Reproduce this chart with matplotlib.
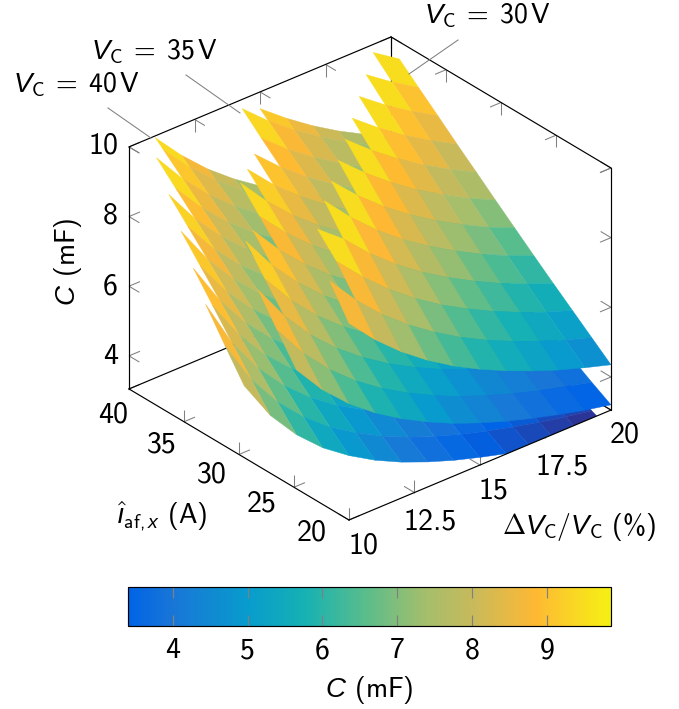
import matplotlib
matplotlib.use("Agg")
import numpy as np
import matplotlib.pyplot as plt
from matplotlib.colors import LinearSegmentedColormap, Normalize
from matplotlib.cm import ScalarMappable
from matplotlib.lines import Line2D
from matplotlib.path import Path
from matplotlib.transforms import IdentityTransform
from mpl_toolkits.mplot3d.art3d import Poly3DCollection
from mpl_toolkits.mplot3d import proj3d

plt.rcParams['font.family'] = ['cmss10', 'DejaVu Sans']
plt.rcParams['axes.unicode_minus'] = False
plt.rcParams['axes.formatter.use_mathtext'] = False
plt.rcParams['mathtext.fontset'] = 'custom'
plt.rcParams['mathtext.rm'] = 'cmss10'
plt.rcParams['mathtext.it'] = 'Liberation Sans:italic'
plt.rcParams['mathtext.bf'] = 'cmss10'
plt.rcParams['mathtext.fallback'] = 'cm'

# ---------- data ----------
current_grid = [20, 21.75, 23.5, 25.25, 27, 28.75, 30.5, 32.25, 34, 35.75, 37.5, 39.25, 40]

ripple_v30 = [10, 11, 12, 13, 14, 15, 16, 17, 18, 19, 20]
C_v30 = [
    [8.70, 9.59],
    [7.91, 8.72, 9.50, 10.10],
    [7.25, 7.99, 8.74, 9.50, 10.27],
    [6.69, 7.38, 8.07, 8.77, 9.48, 10.19],
    [6.21, 6.85, 7.49, 8.14, 8.80, 9.46, 10.14],
    [5.80, 6.39, 6.99, 7.60, 8.21, 8.83, 9.47, 10.10],
    [5.44, 5.99, 6.56, 7.13, 7.70, 8.28, 8.88, 9.47, 10.06],
    [5.12, 5.64, 6.17, 6.71, 7.25, 7.79, 8.35, 8.91, 9.47, 10.04],
    [4.83, 5.33, 5.83, 6.33, 6.84, 7.36, 7.89, 8.42, 8.94, 9.48, 10.02],
    [4.58, 5.05, 5.52, 6.00, 6.48, 6.97, 7.47, 7.97, 8.47, 8.98, 9.49, 10.01],
    [4.35, 4.80, 5.25, 5.70, 6.16, 6.63, 7.10, 7.58, 8.05, 8.54, 9.02, 9.51],
]

ripple_v35 = [8, 9, 10, 11, 12, 13, 14, 15, 16, 17, 18, 19, 20]
C_v35 = [
    [7.99, 8.80, 9.64],
    [7.10, 7.82, 8.57, 9.30, 10.06],
    [6.39, 7.04, 7.71, 8.37, 9.05, 9.73],
    [5.81, 6.40, 7.01, 7.61, 8.23, 8.85, 9.48, 10.11],
    [5.33, 5.87, 6.43, 6.98, 7.54, 8.11, 8.69, 9.27, 9.86],
    [4.92, 5.42, 5.93, 6.44, 6.96, 7.48, 8.02, 8.55, 9.10, 9.65],
    [4.56, 5.03, 5.51, 5.98, 6.46, 6.95, 7.45, 7.94, 8.45, 8.96, 9.46, 9.98],
    [4.26, 4.69, 5.14, 5.58, 6.03, 6.49, 6.95, 7.41, 7.89, 8.36, 8.83, 9.31, 9.52],
    [3.99, 4.40, 4.82, 5.23, 5.66, 6.08, 6.52, 6.95, 7.39, 7.84, 8.28, 8.73, 8.93],
    [3.76, 4.14, 4.54, 4.92, 5.32, 5.72, 6.14, 6.54, 6.96, 7.38, 7.79, 8.22, 8.40],
    [3.55, 3.91, 4.28, 4.65, 5.03, 5.41, 5.79, 6.18, 6.57, 6.97, 7.36, 7.76, 7.93],
    [3.36, 3.71, 4.06, 4.41, 4.76, 5.12, 5.49, 5.85, 6.23, 6.60, 6.97, 7.35, 7.52],
    [3.20, 3.52, 3.86, 4.19, 4.53, 4.87, 5.22, 5.56, 5.92, 6.27, 6.63, 6.99, 7.14],
]

ripple_v40 = [6, 7, 8, 9, 10, 11, 12, 13, 14, 15, 16, 17, 18, 19, 20]
C_v40 = [
    [8.17, 9.00, 9.85],
    [7.00, 7.71, 8.44, 9.17, 9.91],
    [6.13, 6.75, 7.39, 8.03, 8.68, 9.33, 10.00],
    [5.44, 6.00, 6.57, 7.13, 7.71, 8.29, 8.89, 9.48, 10.08],
    [4.90, 5.40, 5.91, 6.42, 6.94, 7.46, 8.00, 8.53, 9.07, 9.61, 10.16],
    [4.45, 4.91, 5.37, 5.84, 6.31, 6.78, 7.27, 7.75, 8.25, 8.74, 9.24, 9.74, 9.95],
    [4.08, 4.50, 4.93, 5.35, 5.78, 6.22, 6.67, 7.11, 7.56, 8.01, 8.47, 8.93, 9.13],
    [3.77, 4.15, 4.55, 4.94, 5.34, 5.74, 6.15, 6.56, 6.98, 7.39, 7.82, 8.24, 8.42],
    [3.50, 3.86, 4.22, 4.59, 4.96, 5.33, 5.71, 6.09, 6.48, 6.86, 7.26, 7.65, 7.82],
    [3.27, 3.60, 3.94, 4.28, 4.63, 4.97, 5.33, 5.69, 6.05, 6.41, 6.77, 7.14, 7.30],
    [3.06, 3.38, 3.69, 4.01, 4.34, 4.66, 5.00, 5.33, 5.67, 6.01, 6.35, 6.69, 6.84],
    [2.88, 3.18, 3.48, 3.78, 4.08, 4.39, 4.71, 5.02, 5.34, 5.65, 5.98, 6.30, 6.44],
    [2.72, 3.00, 3.28, 3.57, 3.86, 4.14, 4.44, 4.74, 5.04, 5.34, 5.64, 5.95, 6.08],
    [2.58, 2.84, 3.11, 3.38, 3.65, 3.93, 4.21, 4.49, 4.77, 5.06, 5.35, 5.64, 5.76],
    [2.45, 2.70, 2.96, 3.21, 3.47, 3.73, 4.00, 4.27, 4.54, 4.81, 5.08, 5.36, 5.48],
]

x_ticks = [10, 12.5, 15, 17.5, 20]
x_tick_labels = ['10', '12.5', '15', '17.5', '20']
y_ticks = [20, 25, 30, 35, 40]
z_ticks = [4, 6, 8, 10]
cbar_ticks = [4, 5, 6, 7, 8, 9]

# ---------- style / layout ----------
W, H = 679, 709
XMIN, XMAX, YMIN, YMAX, ZMIN, ZMAX = 10, 20, 20, 40, 3.05, 10
META_MIN, META_MAX = 2.45, 9.86
CBAR_MIN = 3.4
GREY = '#808080'
FS = 20
FS_TICK = 21.5

cmap_stops = [
    (2.45, (53, 42, 135)), (3.4, (0, 100, 230)), (4.0, (25, 118, 215)), (5.0, (8, 156, 205)),
    (5.75, (21, 177, 180)), (6.57, (89, 189, 140)), (7.39, (165, 190, 107)), (8.0, (198, 186, 92)),
    (8.85, (254, 184, 52)), (9.3, (250, 210, 38)), (9.86, (245, 240, 20)),
]
parula = LinearSegmentedColormap.from_list(
    'parula_like',
    [((v - META_MIN) / (META_MAX - META_MIN), tuple(c / 255 for c in rgb)) for v, rgb in cmap_stops])
norm = Normalize(META_MIN, META_MAX)


def fx(px):
    return px / W


def fy(py):
    return 1 - py / H


fig = plt.figure(figsize=(W / 100, H / 100), dpi=100)

# ---------- 3D axes placed so the box lands on the wanted pixels ----------
ax = fig.add_axes([100 / W, 100 / H, 400 / W, 400 / H], projection='3d', proj_type='ortho')
ax.set_box_aspect((342, 342, 279.4))
ax.view_init(elev=30, azim=230)
ax.set_xlim(XMIN, XMAX)
ax.set_ylim(YMIN, YMAX)
ax.set_zlim(ZMIN, ZMAX)
ax.set_axis_off()
ax.computed_zorder = False
ax.patch.set_alpha(0)


def view_uv(x, y, z):
    u, v, _ = proj3d.proj_transform(x, y, z, ax.get_proj())
    return u, v


ax.apply_aspect()


def frac(x, y, z):
    d = ax.transData.transform(view_uv(x, y, z))
    return (d[0] - 100) / 400, (d[1] - 100) / 400


fB = frac(XMAX, YMIN, ZMIN)
fC = frac(XMIN, YMAX, ZMIN)
fA = frac(XMIN, YMIN, ZMIN)
S = (611 - 129) / (fB[0] - fC[0])
left = 129 - fC[0] * S
bottom = (H - 520) - fA[1] * S
ax.set_position([left / W, bottom / H, S / W, S / H])
ax.apply_aspect()

hex_pts = []
for c in [(XMIN, YMAX, ZMIN), (XMIN, YMIN, ZMIN), (XMAX, YMIN, ZMIN), (XMAX, YMIN, ZMAX),
          (XMAX, YMAX, ZMAX), (XMIN, YMAX, ZMAX)]:
    hex_pts.append(ax.transData.transform(view_uv(*c)))
hex_path = Path(np.array(hex_pts + [hex_pts[0]]), closed=True)


def add_surface(xs, columns, zorder):
    verts, cols = [], []
    for i in range(len(xs) - 1):
        n = min(len(columns[i]), len(columns[i + 1]))
        for k in range(n - 1):
            quad = [(xs[i], current_grid[k], columns[i][k]),
                    (xs[i + 1], current_grid[k], columns[i + 1][k]),
                    (xs[i + 1], current_grid[k + 1], columns[i + 1][k + 1]),
                    (xs[i], current_grid[k + 1], columns[i][k + 1])]
            verts.append(quad)
            cols.append(parula(norm(np.mean([q[2] for q in quad]))))
    coll = Poly3DCollection(verts, facecolors=cols, edgecolors=cols, linewidths=0.3, zorder=zorder)
    ax.add_collection3d(coll, autolim=False)
    coll.set_clip_box(None)
    coll.set_clip_path(hex_path, IdentityTransform())
    return coll


# tick marks (each tick points along the two other box directions)
LX, LY, LZ = 0.42, 0.94, 0.35
tick_kw = dict(color=GREY, lw=0.75, zorder=1, solid_capstyle='butt')
for t in x_ticks:
    ax.plot([t, t], [YMIN, YMIN + LY], [ZMIN, ZMIN], **tick_kw)
    ax.plot([t, t], [YMIN, YMIN], [ZMIN, ZMIN + LZ], **tick_kw)
    ax.plot([t, t], [YMAX, YMAX - LY], [ZMAX, ZMAX], **tick_kw)
    ax.plot([t, t], [YMAX, YMAX], [ZMAX, ZMAX - LZ], **tick_kw)
for t in y_ticks:
    ax.plot([XMIN, XMIN + LX], [t, t], [ZMIN, ZMIN], **tick_kw)
    ax.plot([XMIN, XMIN], [t, t], [ZMIN, ZMIN + LZ], **tick_kw)
    ax.plot([XMAX, XMAX - LX], [t, t], [ZMAX, ZMAX], **tick_kw)
    ax.plot([XMAX, XMAX], [t, t], [ZMAX, ZMAX - LZ], **tick_kw)
for t in z_ticks:
    ax.plot([XMIN, XMIN + LX], [YMAX, YMAX], [t, t], **tick_kw)
    ax.plot([XMIN, XMIN], [YMAX, YMAX - LY], [t, t], **tick_kw)
    ax.plot([XMAX, XMAX - LX], [YMIN, YMIN], [t, t], **tick_kw)
    ax.plot([XMAX, XMAX], [YMIN, YMIN + LY], [t, t], **tick_kw)

# back box lines
line_kw = dict(color='black', lw=0.85, solid_capstyle='projecting')
ax.plot([XMIN, XMAX], [YMAX, YMAX], [ZMIN, ZMIN], zorder=1.5, **line_kw)
ax.plot([XMAX, XMAX], [YMIN, YMAX], [ZMIN, ZMIN], zorder=1.5, **line_kw)
ax.plot([XMAX, XMAX], [YMAX, YMAX], [ZMIN, ZMAX], zorder=1.5, **line_kw)

add_surface(ripple_v40, C_v40, 2)
add_surface(ripple_v35, C_v35, 3)
add_surface(ripple_v30, C_v30, 4)

# outer box lines
for (xa, xb), (ya, yb), (za, zb) in [
    ((XMIN, XMIN), (YMAX, YMIN), (ZMIN, ZMIN)),
    ((XMIN, XMAX), (YMIN, YMIN), (ZMIN, ZMIN)),
    ((XMAX, XMAX), (YMIN, YMIN), (ZMIN, ZMAX)),
    ((XMAX, XMAX), (YMIN, YMAX), (ZMAX, ZMAX)),
    ((XMIN, XMAX), (YMAX, YMAX), (ZMAX, ZMAX)),
    ((XMIN, XMIN), (YMAX, YMAX), (ZMIN, ZMAX)),
]:
    ax.plot([xa, xb], [ya, yb], [za, zb], zorder=5, **line_kw)

ax.set_xlim(XMIN, XMAX)
ax.set_ylim(YMIN, YMAX)
ax.set_zlim(ZMIN, ZMAX)

# ---------- tick labels ----------
for t, py in zip(z_ticks, [356, 287, 216, 146]):
    fig.text(fx(118), fy(py), str(t), ha='right', va='center', fontsize=FS_TICK)
for t, (px, py) in zip(y_ticks, [(312, 533), (262, 504), (212, 475), (162, 445), (113, 415)]):
    fig.text(fx(px), fy(py), str(t), ha='center', va='center', fontsize=FS_TICK)
for t, (px, py) in zip(x_tick_labels, [(363, 546), (430, 522), (493, 491), (562, 467), (625, 435)]):
    fig.text(fx(px), fy(py), t, ha='center', va='center', fontsize=FS_TICK)

# ---------- axis labels ----------
fig.text(fx(68), fy(262), r'$C$ (mF)', rotation=90, ha='center', va='center', fontsize=FS)
fig.text(fx(162), fy(516), r'$\hat{\imath}_{\mathrm{af},x}$ (A)', ha='center', va='center', fontsize=FS)
fig.text(fx(579), fy(527), r'$\Delta V_{\mathrm{C}}/V_{\mathrm{C}}$ (%)', ha='center', va='center', fontsize=FS)

# ---------- surface annotations ----------
for label, (px, py), seg in [
    (r'$V_{\mathrm{C}}\;=\;30\,\mathrm{V}$', (488, 15), ((458, 40), (409, 74))),
    (r'$V_{\mathrm{C}}\;=\;35\,\mathrm{V}$', (155, 51), ((186, 75), (240, 113))),
    (r'$V_{\mathrm{C}}\;=\;40\,\mathrm{V}$', (77, 84), ((108, 108), (151, 138))),
]:
    fig.text(fx(px), fy(py), label, ha='center', va='center', fontsize=FS)
    fig.add_artist(Line2D([fx(seg[0][0]), fx(seg[1][0])], [fy(seg[0][1]), fy(seg[1][1])],
                          color=GREY, lw=0.75, zorder=10))

# ---------- colour bar ----------
cax = fig.add_axes([128 / W, 1 - 626 / H, (611 - 128) / W, (626 - 587) / H])
cbar = fig.colorbar(ScalarMappable(norm=norm, cmap=parula), cax=cax, orientation='horizontal')
cax.set_xlim(CBAR_MIN, META_MAX)
cbar.set_ticks(cbar_ticks)
cbar.set_ticklabels([str(t) for t in cbar_ticks])
cax.tick_params(axis='x', which='major', direction='in', top=True, bottom=True, color=GREY,
                width=0.85, length=8.2, labelsize=FS_TICK, pad=8)
cax.minorticks_off()
cbar.outline.set_linewidth(0.85)
cbar.outline.set_edgecolor('black')
fig.text(fx(369), fy(690), r'$C$ (mF)', ha='center', va='center', fontsize=FS)

fig.savefig('out.png', dpi=100)
